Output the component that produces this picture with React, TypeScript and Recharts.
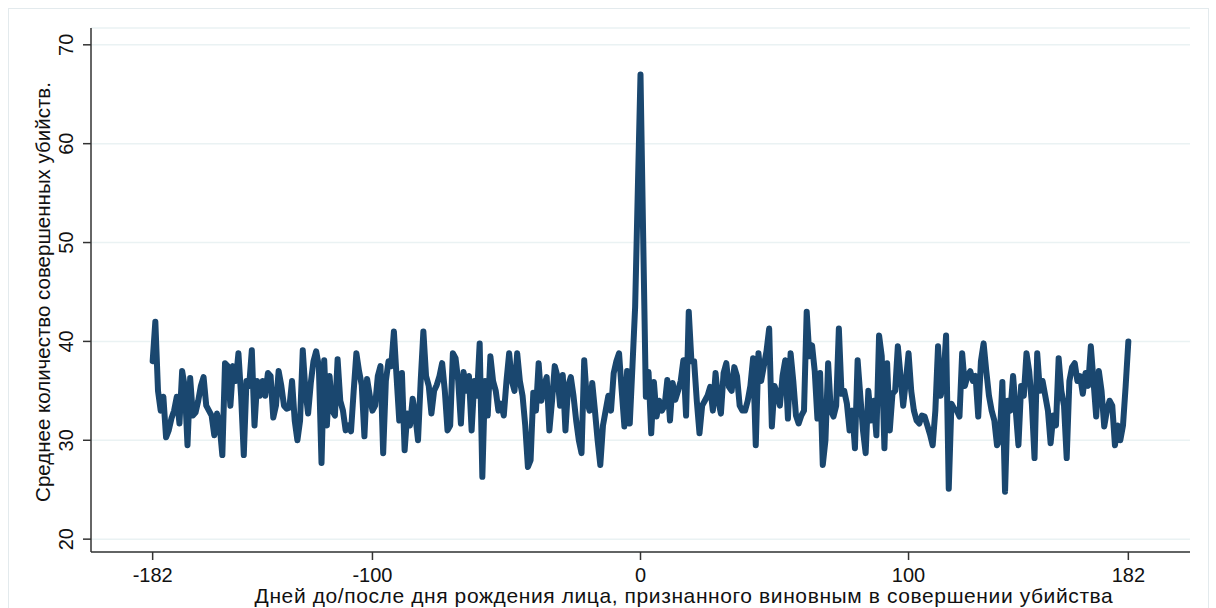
import React from 'react';
import { LineChart, Line, XAxis, YAxis, CartesianGrid } from 'recharts';

// average murders per day
// days -182 .. -141
const countsEarly = [
  38, 42, 35, 33, 34.4, 30.3, 31, 32.2, 33, 34.4, 31.7, 37, 35.4, 29.5, 36.3, 32.5, 32.8, 34, 35.5, 36.4,
  33.5, 33, 32.5, 30.5, 32.7, 31.5, 28.5, 37.8, 37.5, 33.5, 37.5, 36, 38.8, 34.5, 28.5, 36, 35.5, 39.1, 31.5, 36,
  34.5, 36,
];
// days -140 .. -94
const countsWinter = [
  34.5, 36.8, 36.5, 32.3, 33.5, 37, 35.5, 33.5, 33.2, 33.3, 36, 32, 30, 32, 39.1, 35, 32.7, 35.8, 38, 39,
  37.5, 27.7, 38.1, 31.5, 36.5, 33, 32.5, 38.2, 34, 33, 31, 31.5, 30.9, 35, 38.8, 37, 35.6, 30.4, 36.2, 34.5,
  33, 33.5, 36.5, 37.5, 28.7, 36, 38,
];
// days -93 .. -47
const countsSpring = [
  37.5, 41, 36.4, 32, 36.8, 29, 32.7, 31.5, 34.2, 32.5, 30, 36, 41, 36.5, 35.5, 32.7, 35, 35.6, 36.5, 37.8,
  35, 31, 31.5, 38.8, 38.3, 36, 31.7, 36.9, 35, 36.5, 31, 36, 34.5, 39.8, 26.3, 36, 32.5, 38.5, 36, 35,
  33, 33.7, 32.5, 36, 38.8, 36, 35,
];
// days -46 .. -1
const countsLead = [
  38.8, 36, 34.5, 31.5, 27.3, 28, 34.8, 33, 37.8, 34, 35.5, 36.4, 31, 34, 37.5, 36.5, 33.5, 36.6, 31, 35.5,
  36.4, 34.5, 32, 30, 28.7, 38.1, 34, 33, 35.8, 33, 30, 27.5, 31.5, 33, 34.5, 33, 36.8, 38, 38.8, 35,
  31.4, 37, 31.7, 37.5, 43.5, 55.3,
];
// day 0
const countBirthday = 67;
// days 1 .. 90
const countsAfter = [
  50.5, 34.4, 36.9, 30.7, 35.9, 32.4, 34, 33, 33.5, 36.1, 32, 35.8, 34.1, 35, 36, 38.1, 32.5, 43, 38, 38,
  34, 30.7, 33.5, 34, 34.5, 35.4, 33, 36.8, 34, 32.7, 36.8, 37.8, 35.4, 35, 37.4, 36.5, 33.5, 33, 33, 34,
  35.5, 38.3, 29.5, 38.8, 36, 37.5, 39, 41.3, 31.4, 35.5, 34.7, 33.5, 36.5, 38.1, 32.2, 38.8, 36, 32.5, 31.7, 32.5,
  33, 43, 38.5, 39.6, 37, 32.2, 36.8, 27.5, 30, 37.8, 33, 32.4, 33.5, 41.3, 34.7, 35, 33.7, 31, 33, 29.2,
  38.1, 34.5, 31, 28.7, 35, 32, 34, 30.5, 40.6, 38.5,
];
// days 91 .. 182
const countsLate = [
  29.2, 37.8, 31, 34.7, 35, 39.5, 36.5, 33.5, 36, 38.8, 35, 33, 32, 31.7, 32.5, 32.4, 31.5, 30.6, 29.5, 33,
  39.5, 34.5, 36, 40.6, 25.1, 33.7, 33.2, 33, 32.4, 38.8, 35.5, 36.5, 37, 36, 36.5, 32.4, 38, 39.8, 37, 34.5,
  33, 32, 29.5, 30, 35.9, 24.8, 34, 33, 36.5, 33, 29.5, 35.5, 34.5, 38.8, 37, 33.7, 28.2, 38.8, 35, 36,
  34.5, 33, 29.7, 32.5, 31.5, 38.3, 35, 33.5, 28.2, 36, 37.4, 37.8, 36, 36.5, 34.7, 36.8, 35.5, 39.5, 36, 32.4,
  37, 35, 31.4, 33, 34, 33.5, 29.5, 31.5, 30, 31.5, 35.5, 40,
];

const xTicks = [-182, -100, 0, 100, 182];
const yTicks = [20, 30, 40, 50, 60, 70];

const allCounts = [
  ...countsEarly, ...countsWinter, ...countsSpring, ...countsLead,
  countBirthday,
  ...countsAfter, ...countsLate,
];
const data = allCounts.map((count, i) => ({ day: i - 182, count }));

const FONT = '"Liberation Sans", Arial, sans-serif';
const NAVY = '#1a476f';
const AXIS = '#333';

const XTick = (props: any) => {
  const { x, y, payload } = props;
  return (
    <text x={x} y={y + 20} textAnchor="middle" fontSize={20} fontFamily={FONT} fill="#111">
      {payload.value}
    </text>
  );
};

const YTick = (props: any) => {
  const { x, y, payload } = props;
  const bx = x - 8;
  return (
    <text x={bx} y={y} transform={`rotate(-90, ${bx}, ${y})`} textAnchor="middle" fontSize={20} fontFamily={FONT} fill="#111">
      {payload.value}
    </text>
  );
};

export default function App() {
  return (
    <div style={{ position: 'absolute', left: 0, top: 0, width: 1216, height: 608, background: '#fff', overflow: 'hidden' }}>
      <LineChart width={1216} height={608} data={data} margin={{ top: 28, right: 26, bottom: 16, left: 31 }}>
        <CartesianGrid vertical={false} stroke="#eaf2f3" strokeWidth={1.5} />
        <XAxis
          dataKey="day"
          type="number"
          domain={[-205, 205]}
          ticks={xTicks}
          allowDataOverflow
          height={40}
          tickSize={8}
          axisLine={{ stroke: AXIS, strokeWidth: 1.5 }}
          tickLine={{ stroke: AXIS, strokeWidth: 1.5 }}
          tick={<XTick />}
        />
        <YAxis
          type="number"
          domain={[18.7, 71.7]}
          ticks={yTicks}
          allowDataOverflow
          width={60}
          tickSize={8}
          axisLine={{ stroke: AXIS, strokeWidth: 1.5 }}
          tickLine={{ stroke: AXIS, strokeWidth: 1.5 }}
          tick={<YTick />}
        />
        <Line
          type="linear"
          dataKey="count"
          stroke={NAVY}
          strokeWidth={6}
          strokeLinejoin="round"
          strokeLinecap="round"
          dot={false}
          isAnimationActive={false}
        />
      </LineChart>
      <svg width={1216} height={608} style={{ position: 'absolute', left: 0, top: 0, pointerEvents: 'none' }}>
        <rect x={8.5} y={8.5} width={1200} height={640} fill="none" stroke="#e3eaed" strokeWidth={1} />
        <text
          x={50}
          y={292}
          transform="rotate(-90, 50, 292)"
          textAnchor="middle"
          fontSize={20.5}
          fontFamily={FONT}
          fill="#111"
        >
          Среднее количество совершенных убийств.
        </text>
        <text x={684} y={603} textAnchor="middle" fontSize={21} letterSpacing={0.6} fontFamily={FONT} fill="#111">
          Дней до/после дня рождения лица, признанного виновным в совершении убийства
        </text>
      </svg>
    </div>
  );
}
